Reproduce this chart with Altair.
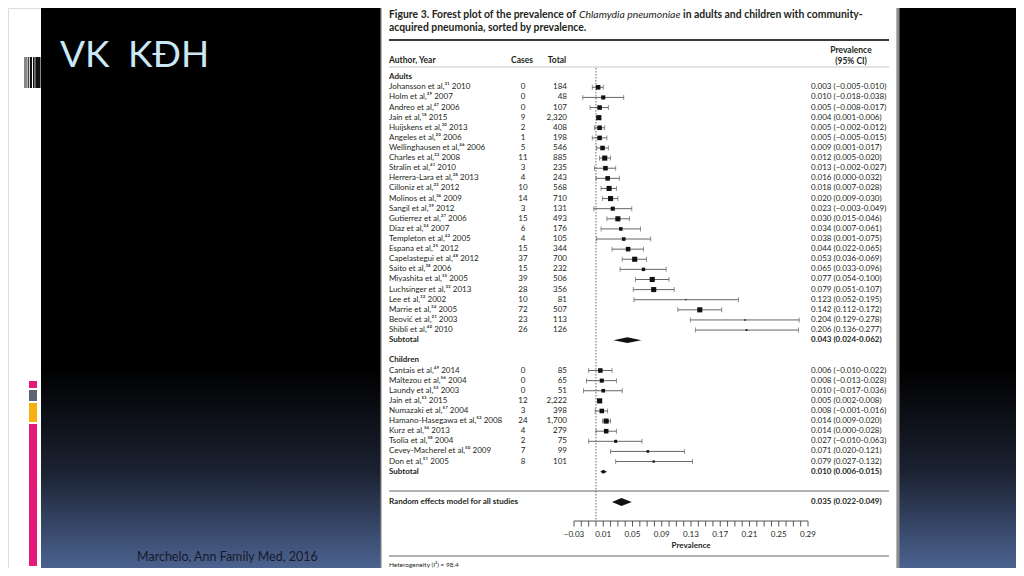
import altair as alt
import pandas as pd

# ------------------------------------------------------------------ data
adult_authors = ["Johansson et al", "Holm et al", "Andreo et al", "Jain et al", "Huijskens et al",
                 "Angeles et al", "Wellinghausen et al", "Charles et al", "Stralin et al",
                 "Herrera-Lara et al", "Cilloniz et al", "Molinos et al", "Sangil et al",
                 "Gutierrez et al", "Diaz et al", "Templeton et al", "Espana et al",
                 "Capelastegui et al", "Saito et al", "Miyashita et al", "Luchsinger et al",
                 "Lee et al", "Marrie et al", "Beović et al", "Shibli et al"]
adult_refs = [31, 29, 47, 18, 30, 20, 46, 22, 41, 28, 23, 36, 39, 27, 24, 42, 25, 48, 38, 35, 33, 32, 34, 21, 40]
adult_years = [2010, 2007, 2006, 2015, 2013, 2006, 2006, 2008, 2010, 2013, 2012, 2009, 2012,
               2006, 2007, 2005, 2012, 2012, 2006, 2005, 2013, 2002, 2005, 2003, 2010]
adult_cases = [0, 0, 0, 9, 2, 1, 5, 11, 3, 4, 10, 14, 3, 15, 6, 4, 15, 37, 15, 39, 28, 10, 72, 23, 26]
adult_totals = [184, 48, 107, 2320, 408, 198, 546, 885, 235, 243, 568, 710, 131, 493, 176, 105,
                344, 700, 232, 506, 356, 81, 507, 113, 126]
adult_prev = [0.003, 0.010, 0.005, 0.004, 0.005, 0.005, 0.009, 0.012, 0.013, 0.016, 0.018, 0.020,
              0.023, 0.030, 0.034, 0.038, 0.044, 0.053, 0.065, 0.077, 0.079, 0.123, 0.142, 0.204, 0.206]
adult_lo = [-0.005, -0.018, -0.008, 0.001, -0.002, -0.005, 0.001, 0.005, -0.002, 0.000, 0.007, 0.009,
            -0.003, 0.015, 0.007, 0.001, 0.022, 0.036, 0.033, 0.054, 0.051, 0.052, 0.112, 0.129, 0.136]
adult_hi = [0.010, 0.038, 0.017, 0.006, 0.012, 0.015, 0.017, 0.020, 0.027, 0.032, 0.028, 0.030,
            0.049, 0.046, 0.061, 0.075, 0.065, 0.069, 0.096, 0.100, 0.107, 0.195, 0.172, 0.278, 0.277]
adult_weight = [3.2, 2.6, 3.2, 4.0, 3.2, 3.2, 3.2, 4.0, 3.2, 3.2, 4.0, 4.0, 2.6, 4.0, 2.0, 2.0,
                3.2, 4.0, 1.8, 4.0, 4.0, 0.25, 4.0, 0.35, 0.5]

child_authors = ["Cantais et al", "Maltezou et al", "Laundy et al", "Jain et al", "Numazaki et al",
                 "Hamano-Hasegawa et al", "Kurz et al", "Tsolia et al", "Cevey-Macherel et al", "Don et al"]
child_refs = [49, 56, 55, 53, 57, 52, 54, 58, 50, 51]
child_years = [2014, 2004, 2003, 2015, 2004, 2008, 2013, 2004, 2009, 2005]
child_cases = [0, 0, 0, 12, 3, 24, 4, 2, 7, 8]
child_totals = [85, 65, 51, 2222, 398, 1700, 279, 75, 99, 101]
child_prev = [0.006, 0.008, 0.010, 0.005, 0.008, 0.014, 0.014, 0.027, 0.071, 0.079]
child_lo = [-0.010, -0.013, -0.017, 0.002, -0.001, 0.009, 0.000, -0.010, 0.020, 0.027]
child_hi = [0.022, 0.028, 0.036, 0.008, 0.016, 0.020, 0.028, 0.063, 0.121, 0.132]
child_weight = [3.2, 2.6, 2.0, 4.0, 3.2, 4.0, 3.2, 1.4, 1.0, 0.8]

summary_names = ["Adults", "Children", "All studies"]
summary_prev = [0.043, 0.010, 0.035]
summary_lo = [0.024, 0.006, 0.022]
summary_hi = [0.062, 0.015, 0.049]

heterogeneity_i2 = 98.4
axis_label_values = [-0.03, 0.01, 0.05, 0.09, 0.13, 0.17, 0.21, 0.25, 0.29]

# ------------------------------------------------------------------ layout / style
OFF = 8  # page margin: reference pixel -> chart pixel
def P(v):
    return v - OFF

FONT = "Lato"
TXT = "#231f20"
LINE = "#555555"

SUP = str.maketrans("0123456789", "⁰¹²³⁴⁵⁶⁷⁸⁹")

def num(v):
    return f"{v:.3f}".replace("-", "−")

def ci_text(p, lo, hi):
    return f"{num(p)} ({num(lo)}-{num(hi)})"

# rows: adults header 0, adults 1..25, subtotal 26, children header 28, children 29..38,
# subtotal 39, overall 42
rows = []
for i in range(len(adult_authors)):
    rows.append(dict(label=f"{adult_authors[i]},{str(adult_refs[i]).translate(SUP)} {adult_years[i]}",
                     cases=str(adult_cases[i]), total=f"{adult_totals[i]:,}",
                     prev=adult_prev[i], lo=adult_lo[i], hi=adult_hi[i], weight=adult_weight[i],
                     ci=ci_text(adult_prev[i], adult_lo[i], adult_hi[i]), row=1 + i))
for i in range(len(child_authors)):
    rows.append(dict(label=f"{child_authors[i]},{str(child_refs[i]).translate(SUP)} {child_years[i]}",
                     cases=str(child_cases[i]), total=f"{child_totals[i]:,}",
                     prev=child_prev[i], lo=child_lo[i], hi=child_hi[i], weight=child_weight[i],
                     ci=ci_text(child_prev[i], child_lo[i], child_hi[i]), row=29 + i))
studies = pd.DataFrame(rows)

summary_rows = [26, 39, 42]
summary_half = [0.28, 0.2, 0.4]
summary_df = pd.DataFrame(dict(name=summary_names, row=summary_rows,
                               ci=[ci_text(p, l, h) for p, l, h in zip(summary_prev, summary_lo, summary_hi)]))
diamond_pts = []
for n, r, hh, p, l, h in zip(summary_names, summary_rows, summary_half, summary_prev, summary_lo, summary_hi):
    diamond_pts += [dict(g=n, x=l, y=r, y2=r), dict(g=n, x=p, y=r - hh, y2=r + hh), dict(g=n, x=h, y=r, y2=r)]
diamonds = pd.DataFrame(diamond_pts)

headers = pd.DataFrame(dict(text=["Adults", "Subtotal", "Children", "Subtotal",
                                  "Random effects model for all studies"],
                            row=[0, 26, 28, 39, 42]))

minor_ticks = [round(-0.03 + 0.01 * k, 2) for k in range(33)]
ticks_df = pd.DataFrame(dict(v=minor_ticks))
labels_df = pd.DataFrame(dict(v=axis_label_values,
                              t=[f"{v:.2f}".replace("-", "−") for v in axis_label_values]))

xs = alt.Scale(domain=[-0.03, 0.29], range=[P(574), P(808)], nice=False, zero=False)
ys = alt.Scale(domain=[0, 42], range=[P(77.2), P(502)], nice=False, zero=False)

def Y(field="row"):
    return alt.Y(f"{field}:Q", scale=ys, axis=None)

def X(field):
    return alt.X(f"{field}:Q", scale=xs, axis=None)

one = pd.DataFrame(dict(a=[0]))

def rect(x, x2, y, y2, **kw):
    return alt.Chart(one).mark_rect(**kw).encode(
        x=alt.value(P(x)), x2=alt.value(P(x2)), y=alt.value(P(y)), y2=alt.value(P(y2)))

def label(txt, x, y, **kw):
    kw.setdefault("font", FONT)
    return alt.Chart(one).mark_text(text=txt, **kw).encode(x=alt.value(P(x)), y=alt.value(P(y)))

def hline(x, x2, y, **kw):
    return alt.Chart(one).mark_rule(**kw).encode(
        x=alt.value(P(x)), x2=alt.value(P(x2)), y=alt.value(P(y)))

layers = []

# slide background
gradient = {"gradient": "linear", "x1": 0, "y1": 0, "x2": 0, "y2": 1,
            "stops": [{"offset": 0, "color": "#000000"}, {"offset": 0.64, "color": "#000000"},
                      {"offset": 0.82, "color": "#1b2232"}, {"offset": 1, "color": "#4f6898"}]}
layers.append(rect(41, 1024, 0, 576, fill=gradient))
# colour strip on the left
layers.append(rect(29, 37, 381, 388, color="#e5197a"))
layers.append(rect(29, 37, 390, 401, color="#5b6573"))
layers.append(rect(29, 37, 403, 422, color="#f6b10f"))
layers.append(rect(29, 37, 424, 566, color="#e5197a"))
# bar-code ornament
for a, b in [(24.5, 25.5), (26.5, 27.3), (28.2, 29.2), (30, 32), (33, 34.6), (35.3, 40.5)]:
    layers.append(rect(a, b, 57, 88, color="#111111"))
# slide title & source
layers.append(label("VK", 60, 67, fontSize=37, color="#cbe8f7", align="left", baseline="alphabetic"))
layers.append(label("KĐH", 128, 67, fontSize=37, color="#cbe8f7", align="left", baseline="alphabetic"))
layers.append(label("Marchelo, Ann Family Med, 2016", 137, 557, fontSize=12.5, color="#17192a",
                    align="left", baseline="middle"))

# figure panel
layers.append(alt.Chart(one).mark_rect(color="#8f8f8f", cornerRadius=6).encode(
    x=alt.value(P(384)), x2=alt.value(P(899.5)), y=alt.value(P(-20)), y2=alt.value(P(576))))
layers.append(alt.Chart(one).mark_rect(fill="white", stroke="#8a8a8a", strokeWidth=1.2, cornerRadius=6).encode(
    x=alt.value(P(381)), x2=alt.value(P(897)), y=alt.value(P(-20)), y2=alt.value(P(574))))

# figure caption (bold + italic run)
cap = dict(fontSize=10.4, color=TXT, align="left", baseline="middle")
layers.append(label("Figure 3. Forest plot of the prevalence of", 389, 15, fontWeight="bold", **cap))
layers.append(label("Chlamydia pneumoniae", 579, 15, fontStyle="italic", **cap))
layers.append(label("in adults and children with community-", 683, 15, fontWeight="bold", **cap))
layers.append(label("acquired pneumonia, sorted by prevalence.", 389, 27.5, fontWeight="bold", **cap))
layers.append(hline(389, 889, 40, color="#3a3a3a", strokeWidth=2))
layers.append(hline(389, 889, 67, color="#bbbbbb", strokeWidth=0.8))
layers.append(hline(389, 889, 491, color="#666666", strokeWidth=1))
layers.append(hline(389, 889, 556, color="#666666", strokeWidth=1))

# column headers
hdr = dict(fontSize=8.5, fontWeight="bold", color=TXT, baseline="middle")
layers.append(label("Author, Year", 389, 60, align="left", **hdr))
layers.append(label("Cases", 522, 60, align="center", **hdr))
layers.append(label("Total", 557, 60, align="center", **hdr))
layers.append(label("Prevalence", 851, 50, align="center", **hdr))
layers.append(label("(95% CI)", 851, 61, align="center", **hdr))

# reference (dotted) line at 0
layers.append(alt.Chart(one).mark_rule(color="#444444", strokeDash=[1.5, 1.5], strokeWidth=0.8).encode(
    x=alt.X(datum=0, type="quantitative", scale=xs, axis=None),
    y=alt.value(P(68)), y2=alt.value(P(521))))

base = alt.Chart(studies)
row_txt = dict(font=FONT, fontSize=8, color=TXT, baseline="middle")
layers.append(base.mark_text(align="left", **row_txt).encode(x=alt.value(P(389)), y=Y(), text="label:N"))
layers.append(base.mark_text(align="center", **row_txt).encode(x=alt.value(P(523)), y=Y(), text="cases:N"))
layers.append(base.mark_text(align="right", **row_txt).encode(x=alt.value(P(567)), y=Y(), text="total:N"))
layers.append(base.mark_text(align="left", **row_txt).encode(x=alt.value(P(811)), y=Y(), text="ci:N"))

# confidence intervals
layers.append(base.mark_rule(color=LINE, strokeWidth=0.9).encode(
    x=X("lo"), x2=alt.X2("hi:Q"), y=Y()))
layers.append(base.mark_tick(orient="vertical", color=LINE, size=5, thickness=0.9).encode(x=X("lo"), y=Y()))
layers.append(base.mark_tick(orient="vertical", color=LINE, size=5, thickness=0.9).encode(x=X("hi"), y=Y()))
layers.append(base.mark_square(color="#111111", opacity=1, filled=True).encode(
    x=X("prev"), y=Y(),
    size=alt.Size("weight:Q", scale=alt.Scale(domain=[0, 4], range=[0, 26]), legend=None)))

# group headers / subtotals
hb = dict(font=FONT, fontSize=8, fontWeight="bold", color=TXT, baseline="middle")
layers.append(alt.Chart(headers).mark_text(align="left", **hb).encode(
    x=alt.value(P(389)), y=Y(), text="text:N"))
layers.append(alt.Chart(summary_df).mark_text(align="left", **hb).encode(
    x=alt.value(P(811)), y=Y(), text="ci:N"))
layers.append(alt.Chart(diamonds).mark_area(color="#111111", orient="vertical", opacity=1).encode(
    x=X("x"), y=Y("y"), y2=alt.Y2("y2:Q"), detail="g:N"))

# x axis (drawn by hand: ticks hang below the baseline)
layers.append(alt.Chart(one).mark_rule(color="#444444", strokeWidth=0.9).encode(
    x=alt.X(datum=-0.03, type="quantitative", scale=xs, axis=None),
    x2=alt.X2(datum=0.29), y=alt.value(P(521))))
layers.append(alt.Chart(ticks_df).mark_rule(color="#444444", strokeWidth=0.9).encode(
    x=X("v"), y=alt.value(P(521)), y2=alt.value(P(526.5))))
layers.append(alt.Chart(labels_df).mark_text(font=FONT, fontSize=8, color=TXT, baseline="middle").encode(
    x=X("v"), y=alt.value(P(535)), text="t:N"))
layers.append(label("Prevalence", 691, 546, fontSize=8, fontWeight="bold", color=TXT,
                    align="center", baseline="middle"))
layers.append(label(f"Heterogeneity (I²) = {heterogeneity_i2}", 389, 565, fontSize=6.5, color=TXT,
                    align="left", baseline="middle"))

chart = alt.layer(*layers).properties(
    width=1008, height=560, padding=0,
    autosize=alt.AutoSizeParams(type="none"),
).configure_view(stroke=None).configure(background="white")

chart.save("out.html", embed_options={"renderer": "svg", "actions": False})
